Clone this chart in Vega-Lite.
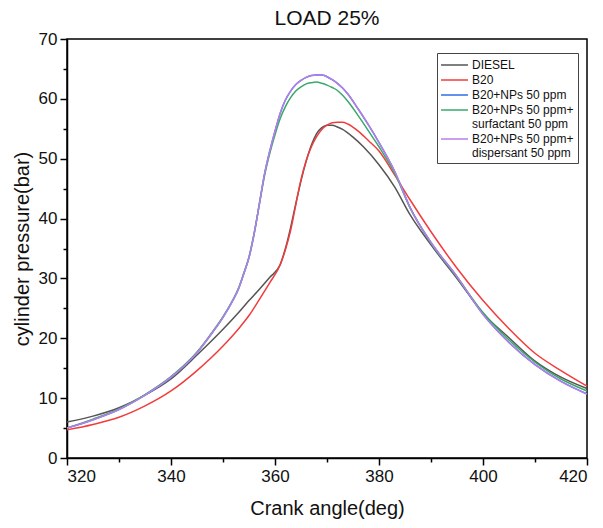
{
  "$schema": "https://vega.github.io/schema/vega-lite/v6.json",
  "width": 520,
  "height": 419,
  "autosize": {"type": "none"},
  "padding": {"left": 67, "top": 39, "right": 16, "bottom": 70},
  "background": "white",
  "title": {"text": "LOAD 25%", "fontSize": 21, "fontWeight": "normal", "color": "#111", "offset": 1, "font": "Liberation Sans"},
  "config": {
    "font": "Liberation Sans",
    "view": {"stroke": "#000", "strokeWidth": 1.5},
    "axis": {
      "domainColor": "#000", "domainWidth": 1.5, "tickColor": "#000", "tickWidth": 1.5,
      "labelColor": "#111", "titleColor": "#111", "labelFontSize": 17, "titleFontSize": 20,
      "titleFontWeight": "normal", "grid": false
    }
  },
  "datasets": {
    "curves": [
      {"fuel": "DIESEL", "angle": 320, "p": 6.0}, {"fuel": "DIESEL", "angle": 325, "p": 7.0}, {"fuel": "DIESEL", "angle": 330, "p": 8.4}, {"fuel": "DIESEL", "angle": 335, "p": 10.5}, {"fuel": "DIESEL", "angle": 340, "p": 13.2}, {"fuel": "DIESEL", "angle": 345, "p": 17.2}, {"fuel": "DIESEL", "angle": 350, "p": 21.5}, {"fuel": "DIESEL", "angle": 353, "p": 24.3}, {"fuel": "DIESEL", "angle": 355, "p": 26.3}, {"fuel": "DIESEL", "angle": 357, "p": 28.2}, {"fuel": "DIESEL", "angle": 359, "p": 30.2}, {"fuel": "DIESEL", "angle": 361, "p": 32.3}, {"fuel": "DIESEL", "angle": 362, "p": 35.0}, {"fuel": "DIESEL", "angle": 363, "p": 38.5}, {"fuel": "DIESEL", "angle": 364, "p": 42.5}, {"fuel": "DIESEL", "angle": 365, "p": 46.3}, {"fuel": "DIESEL", "angle": 366, "p": 49.6}, {"fuel": "DIESEL", "angle": 367, "p": 52.3}, {"fuel": "DIESEL", "angle": 368, "p": 54.2}, {"fuel": "DIESEL", "angle": 369, "p": 55.2}, {"fuel": "DIESEL", "angle": 370, "p": 55.6}, {"fuel": "DIESEL", "angle": 371, "p": 55.6}, {"fuel": "DIESEL", "angle": 372, "p": 55.3}, {"fuel": "DIESEL", "angle": 373, "p": 54.9}, {"fuel": "DIESEL", "angle": 375, "p": 53.6}, {"fuel": "DIESEL", "angle": 377, "p": 52.0}, {"fuel": "DIESEL", "angle": 380, "p": 49.0}, {"fuel": "DIESEL", "angle": 383, "p": 45.3}, {"fuel": "DIESEL", "angle": 386, "p": 40.6}, {"fuel": "DIESEL", "angle": 390, "p": 35.6}, {"fuel": "DIESEL", "angle": 395, "p": 30.0}, {"fuel": "DIESEL", "angle": 400, "p": 24.2}, {"fuel": "DIESEL", "angle": 405, "p": 20.1}, {"fuel": "DIESEL", "angle": 410, "p": 16.2}, {"fuel": "DIESEL", "angle": 415, "p": 13.5}, {"fuel": "DIESEL", "angle": 420, "p": 11.6},

      {"fuel": "B20", "angle": 320, "p": 4.7}, {"fuel": "B20", "angle": 325, "p": 5.6}, {"fuel": "B20", "angle": 330, "p": 6.8}, {"fuel": "B20", "angle": 335, "p": 8.7}, {"fuel": "B20", "angle": 340, "p": 11.2}, {"fuel": "B20", "angle": 345, "p": 14.6}, {"fuel": "B20", "angle": 350, "p": 18.7}, {"fuel": "B20", "angle": 353, "p": 21.6}, {"fuel": "B20", "angle": 355, "p": 23.8}, {"fuel": "B20", "angle": 357, "p": 26.5}, {"fuel": "B20", "angle": 359, "p": 29.3}, {"fuel": "B20", "angle": 361, "p": 32.3}, {"fuel": "B20", "angle": 362, "p": 34.8}, {"fuel": "B20", "angle": 363, "p": 38.0}, {"fuel": "B20", "angle": 364, "p": 42.3}, {"fuel": "B20", "angle": 365, "p": 46.5}, {"fuel": "B20", "angle": 366, "p": 49.7}, {"fuel": "B20", "angle": 367, "p": 52.0}, {"fuel": "B20", "angle": 368, "p": 53.7}, {"fuel": "B20", "angle": 369, "p": 54.9}, {"fuel": "B20", "angle": 370, "p": 55.6}, {"fuel": "B20", "angle": 371, "p": 56.0}, {"fuel": "B20", "angle": 372, "p": 56.1}, {"fuel": "B20", "angle": 373, "p": 56.1}, {"fuel": "B20", "angle": 374, "p": 55.8}, {"fuel": "B20", "angle": 376, "p": 54.6}, {"fuel": "B20", "angle": 378, "p": 53.0}, {"fuel": "B20", "angle": 380, "p": 51.3}, {"fuel": "B20", "angle": 383, "p": 47.3}, {"fuel": "B20", "angle": 386, "p": 43.1}, {"fuel": "B20", "angle": 390, "p": 37.8}, {"fuel": "B20", "angle": 395, "p": 31.7}, {"fuel": "B20", "angle": 400, "p": 26.3}, {"fuel": "B20", "angle": 405, "p": 21.6}, {"fuel": "B20", "angle": 410, "p": 17.5}, {"fuel": "B20", "angle": 415, "p": 14.6}, {"fuel": "B20", "angle": 420, "p": 12.0},

      {"fuel": "B20+NPs 50 ppm", "angle": 320, "p": 5.0}, {"fuel": "B20+NPs 50 ppm", "angle": 325, "p": 6.4}, {"fuel": "B20+NPs 50 ppm", "angle": 330, "p": 8.1}, {"fuel": "B20+NPs 50 ppm", "angle": 335, "p": 10.5}, {"fuel": "B20+NPs 50 ppm", "angle": 340, "p": 13.5}, {"fuel": "B20+NPs 50 ppm", "angle": 345, "p": 17.6}, {"fuel": "B20+NPs 50 ppm", "angle": 348, "p": 21.0}, {"fuel": "B20+NPs 50 ppm", "angle": 350, "p": 23.5}, {"fuel": "B20+NPs 50 ppm", "angle": 352, "p": 26.5}, {"fuel": "B20+NPs 50 ppm", "angle": 353, "p": 28.3}, {"fuel": "B20+NPs 50 ppm", "angle": 354, "p": 30.8}, {"fuel": "B20+NPs 50 ppm", "angle": 355, "p": 33.5}, {"fuel": "B20+NPs 50 ppm", "angle": 356, "p": 37.5}, {"fuel": "B20+NPs 50 ppm", "angle": 357, "p": 42.5}, {"fuel": "B20+NPs 50 ppm", "angle": 358, "p": 47.5}, {"fuel": "B20+NPs 50 ppm", "angle": 359, "p": 51.3}, {"fuel": "B20+NPs 50 ppm", "angle": 360, "p": 54.6}, {"fuel": "B20+NPs 50 ppm", "angle": 361, "p": 57.6}, {"fuel": "B20+NPs 50 ppm", "angle": 362, "p": 59.8}, {"fuel": "B20+NPs 50 ppm", "angle": 363, "p": 61.3}, {"fuel": "B20+NPs 50 ppm", "angle": 364, "p": 62.4}, {"fuel": "B20+NPs 50 ppm", "angle": 365, "p": 63.1}, {"fuel": "B20+NPs 50 ppm", "angle": 366, "p": 63.6}, {"fuel": "B20+NPs 50 ppm", "angle": 367, "p": 63.9}, {"fuel": "B20+NPs 50 ppm", "angle": 368, "p": 64.0}, {"fuel": "B20+NPs 50 ppm", "angle": 369, "p": 64.0}, {"fuel": "B20+NPs 50 ppm", "angle": 370, "p": 63.7}, {"fuel": "B20+NPs 50 ppm", "angle": 371, "p": 63.2}, {"fuel": "B20+NPs 50 ppm", "angle": 372, "p": 62.6}, {"fuel": "B20+NPs 50 ppm", "angle": 373, "p": 61.8}, {"fuel": "B20+NPs 50 ppm", "angle": 374, "p": 60.8}, {"fuel": "B20+NPs 50 ppm", "angle": 376, "p": 58.3}, {"fuel": "B20+NPs 50 ppm", "angle": 378, "p": 55.6}, {"fuel": "B20+NPs 50 ppm", "angle": 380, "p": 52.7}, {"fuel": "B20+NPs 50 ppm", "angle": 383, "p": 47.9}, {"fuel": "B20+NPs 50 ppm", "angle": 386, "p": 41.8}, {"fuel": "B20+NPs 50 ppm", "angle": 390, "p": 36.0}, {"fuel": "B20+NPs 50 ppm", "angle": 395, "p": 30.3}, {"fuel": "B20+NPs 50 ppm", "angle": 400, "p": 24.0}, {"fuel": "B20+NPs 50 ppm", "angle": 405, "p": 19.3}, {"fuel": "B20+NPs 50 ppm", "angle": 410, "p": 15.6}, {"fuel": "B20+NPs 50 ppm", "angle": 415, "p": 12.8}, {"fuel": "B20+NPs 50 ppm", "angle": 420, "p": 10.7},

      {"fuel": "B20+NPs 50 ppm+ surfactant 50 ppm", "angle": 320, "p": 5.0}, {"fuel": "B20+NPs 50 ppm+ surfactant 50 ppm", "angle": 325, "p": 6.5}, {"fuel": "B20+NPs 50 ppm+ surfactant 50 ppm", "angle": 330, "p": 8.2}, {"fuel": "B20+NPs 50 ppm+ surfactant 50 ppm", "angle": 335, "p": 10.6}, {"fuel": "B20+NPs 50 ppm+ surfactant 50 ppm", "angle": 340, "p": 13.6}, {"fuel": "B20+NPs 50 ppm+ surfactant 50 ppm", "angle": 345, "p": 17.7}, {"fuel": "B20+NPs 50 ppm+ surfactant 50 ppm", "angle": 348, "p": 21.1}, {"fuel": "B20+NPs 50 ppm+ surfactant 50 ppm", "angle": 350, "p": 23.6}, {"fuel": "B20+NPs 50 ppm+ surfactant 50 ppm", "angle": 352, "p": 26.6}, {"fuel": "B20+NPs 50 ppm+ surfactant 50 ppm", "angle": 353, "p": 28.4}, {"fuel": "B20+NPs 50 ppm+ surfactant 50 ppm", "angle": 354, "p": 30.9}, {"fuel": "B20+NPs 50 ppm+ surfactant 50 ppm", "angle": 355, "p": 33.6}, {"fuel": "B20+NPs 50 ppm+ surfactant 50 ppm", "angle": 356, "p": 37.6}, {"fuel": "B20+NPs 50 ppm+ surfactant 50 ppm", "angle": 357, "p": 42.4}, {"fuel": "B20+NPs 50 ppm+ surfactant 50 ppm", "angle": 358, "p": 47.2}, {"fuel": "B20+NPs 50 ppm+ surfactant 50 ppm", "angle": 359, "p": 50.9}, {"fuel": "B20+NPs 50 ppm+ surfactant 50 ppm", "angle": 360, "p": 54.0}, {"fuel": "B20+NPs 50 ppm+ surfactant 50 ppm", "angle": 361, "p": 56.7}, {"fuel": "B20+NPs 50 ppm+ surfactant 50 ppm", "angle": 362, "p": 58.7}, {"fuel": "B20+NPs 50 ppm+ surfactant 50 ppm", "angle": 363, "p": 60.2}, {"fuel": "B20+NPs 50 ppm+ surfactant 50 ppm", "angle": 364, "p": 61.3}, {"fuel": "B20+NPs 50 ppm+ surfactant 50 ppm", "angle": 365, "p": 62.0}, {"fuel": "B20+NPs 50 ppm+ surfactant 50 ppm", "angle": 366, "p": 62.5}, {"fuel": "B20+NPs 50 ppm+ surfactant 50 ppm", "angle": 367, "p": 62.7}, {"fuel": "B20+NPs 50 ppm+ surfactant 50 ppm", "angle": 368, "p": 62.8}, {"fuel": "B20+NPs 50 ppm+ surfactant 50 ppm", "angle": 369, "p": 62.6}, {"fuel": "B20+NPs 50 ppm+ surfactant 50 ppm", "angle": 370, "p": 62.3}, {"fuel": "B20+NPs 50 ppm+ surfactant 50 ppm", "angle": 371, "p": 61.9}, {"fuel": "B20+NPs 50 ppm+ surfactant 50 ppm", "angle": 372, "p": 61.4}, {"fuel": "B20+NPs 50 ppm+ surfactant 50 ppm", "angle": 373, "p": 60.6}, {"fuel": "B20+NPs 50 ppm+ surfactant 50 ppm", "angle": 374, "p": 59.6}, {"fuel": "B20+NPs 50 ppm+ surfactant 50 ppm", "angle": 376, "p": 57.2}, {"fuel": "B20+NPs 50 ppm+ surfactant 50 ppm", "angle": 378, "p": 54.6}, {"fuel": "B20+NPs 50 ppm+ surfactant 50 ppm", "angle": 380, "p": 52.0}, {"fuel": "B20+NPs 50 ppm+ surfactant 50 ppm", "angle": 383, "p": 47.6}, {"fuel": "B20+NPs 50 ppm+ surfactant 50 ppm", "angle": 386, "p": 41.8}, {"fuel": "B20+NPs 50 ppm+ surfactant 50 ppm", "angle": 390, "p": 35.9}, {"fuel": "B20+NPs 50 ppm+ surfactant 50 ppm", "angle": 395, "p": 30.2}, {"fuel": "B20+NPs 50 ppm+ surfactant 50 ppm", "angle": 400, "p": 24.3}, {"fuel": "B20+NPs 50 ppm+ surfactant 50 ppm", "angle": 405, "p": 19.7}, {"fuel": "B20+NPs 50 ppm+ surfactant 50 ppm", "angle": 410, "p": 16.0}, {"fuel": "B20+NPs 50 ppm+ surfactant 50 ppm", "angle": 415, "p": 13.2}, {"fuel": "B20+NPs 50 ppm+ surfactant 50 ppm", "angle": 420, "p": 11.2},

      {"fuel": "B20+NPs 50 ppm+ dispersant 50 ppm", "angle": 320, "p": 5.0}, {"fuel": "B20+NPs 50 ppm+ dispersant 50 ppm", "angle": 325, "p": 6.4}, {"fuel": "B20+NPs 50 ppm+ dispersant 50 ppm", "angle": 330, "p": 8.1}, {"fuel": "B20+NPs 50 ppm+ dispersant 50 ppm", "angle": 335, "p": 10.5}, {"fuel": "B20+NPs 50 ppm+ dispersant 50 ppm", "angle": 340, "p": 13.5}, {"fuel": "B20+NPs 50 ppm+ dispersant 50 ppm", "angle": 345, "p": 17.6}, {"fuel": "B20+NPs 50 ppm+ dispersant 50 ppm", "angle": 348, "p": 21.0}, {"fuel": "B20+NPs 50 ppm+ dispersant 50 ppm", "angle": 350, "p": 23.5}, {"fuel": "B20+NPs 50 ppm+ dispersant 50 ppm", "angle": 352, "p": 26.5}, {"fuel": "B20+NPs 50 ppm+ dispersant 50 ppm", "angle": 353, "p": 28.3}, {"fuel": "B20+NPs 50 ppm+ dispersant 50 ppm", "angle": 354, "p": 30.8}, {"fuel": "B20+NPs 50 ppm+ dispersant 50 ppm", "angle": 355, "p": 33.5}, {"fuel": "B20+NPs 50 ppm+ dispersant 50 ppm", "angle": 356, "p": 37.5}, {"fuel": "B20+NPs 50 ppm+ dispersant 50 ppm", "angle": 357, "p": 42.5}, {"fuel": "B20+NPs 50 ppm+ dispersant 50 ppm", "angle": 358, "p": 47.5}, {"fuel": "B20+NPs 50 ppm+ dispersant 50 ppm", "angle": 359, "p": 51.3}, {"fuel": "B20+NPs 50 ppm+ dispersant 50 ppm", "angle": 360, "p": 54.6}, {"fuel": "B20+NPs 50 ppm+ dispersant 50 ppm", "angle": 361, "p": 57.6}, {"fuel": "B20+NPs 50 ppm+ dispersant 50 ppm", "angle": 362, "p": 59.8}, {"fuel": "B20+NPs 50 ppm+ dispersant 50 ppm", "angle": 363, "p": 61.3}, {"fuel": "B20+NPs 50 ppm+ dispersant 50 ppm", "angle": 364, "p": 62.4}, {"fuel": "B20+NPs 50 ppm+ dispersant 50 ppm", "angle": 365, "p": 63.1}, {"fuel": "B20+NPs 50 ppm+ dispersant 50 ppm", "angle": 366, "p": 63.6}, {"fuel": "B20+NPs 50 ppm+ dispersant 50 ppm", "angle": 367, "p": 63.9}, {"fuel": "B20+NPs 50 ppm+ dispersant 50 ppm", "angle": 368, "p": 64.0}, {"fuel": "B20+NPs 50 ppm+ dispersant 50 ppm", "angle": 369, "p": 64.0}, {"fuel": "B20+NPs 50 ppm+ dispersant 50 ppm", "angle": 370, "p": 63.7}, {"fuel": "B20+NPs 50 ppm+ dispersant 50 ppm", "angle": 371, "p": 63.2}, {"fuel": "B20+NPs 50 ppm+ dispersant 50 ppm", "angle": 372, "p": 62.6}, {"fuel": "B20+NPs 50 ppm+ dispersant 50 ppm", "angle": 373, "p": 61.8}, {"fuel": "B20+NPs 50 ppm+ dispersant 50 ppm", "angle": 374, "p": 60.8}, {"fuel": "B20+NPs 50 ppm+ dispersant 50 ppm", "angle": 376, "p": 58.3}, {"fuel": "B20+NPs 50 ppm+ dispersant 50 ppm", "angle": 378, "p": 55.6}, {"fuel": "B20+NPs 50 ppm+ dispersant 50 ppm", "angle": 380, "p": 52.7}, {"fuel": "B20+NPs 50 ppm+ dispersant 50 ppm", "angle": 383, "p": 47.9}, {"fuel": "B20+NPs 50 ppm+ dispersant 50 ppm", "angle": 386, "p": 41.8}, {"fuel": "B20+NPs 50 ppm+ dispersant 50 ppm", "angle": 390, "p": 36.0}, {"fuel": "B20+NPs 50 ppm+ dispersant 50 ppm", "angle": 395, "p": 30.3}, {"fuel": "B20+NPs 50 ppm+ dispersant 50 ppm", "angle": 400, "p": 24.0}, {"fuel": "B20+NPs 50 ppm+ dispersant 50 ppm", "angle": 405, "p": 19.3}, {"fuel": "B20+NPs 50 ppm+ dispersant 50 ppm", "angle": 410, "p": 15.6}, {"fuel": "B20+NPs 50 ppm+ dispersant 50 ppm", "angle": 415, "p": 12.8}, {"fuel": "B20+NPs 50 ppm+ dispersant 50 ppm", "angle": 420, "p": 10.7}
    ]
  },
  "data": {"name": "curves"},
  "resolve": {"axis": {"x": "independent", "y": "independent"}},
  "layer": [
    {
      "mark": {"type": "line", "strokeWidth": 0, "opacity": 0},
      "encoding": {
        "x": {"field": "angle", "type": "quantitative", "scale": {"domain": [320, 420], "nice": false, "zero": false},
              "axis": {"orient": "bottom", "values": [330, 350, 370, 390, 410], "labels": false, "title": null, "domain": false, "tickSize": 4}},
        "y": {"field": "p", "type": "quantitative", "scale": {"domain": [0, 70], "nice": false},
              "axis": {"orient": "left", "values": [5, 15, 25, 35, 45, 55, 65], "labels": false, "title": null, "domain": false, "tickSize": 4}},
        "detail": {"field": "fuel"}
      }
    },
    {
      "mark": {"type": "line", "strokeWidth": 1.5, "interpolate": "monotone"},
      "encoding": {
        "x": {"field": "angle", "type": "quantitative", "scale": {"domain": [320, 420], "nice": false, "zero": false},
              "axis": {"orient": "bottom", "values": [320, 340, 360, 380, 400, 420], "title": "Crank angle(deg)", "tickSize": 7, "labelPadding": 3, "titlePadding": 14}},
        "y": {"field": "p", "type": "quantitative", "scale": {"domain": [0, 70], "nice": false},
              "axis": {"orient": "left", "values": [0, 10, 20, 30, 40, 50, 60, 70], "title": "cylinder pressure(bar)", "tickSize": 7, "labelPadding": 3, "titlePadding": 6}},
        "color": {
          "field": "fuel", "type": "nominal",
          "scale": {
            "domain": ["DIESEL", "B20", "B20+NPs 50 ppm", "B20+NPs 50 ppm+ surfactant 50 ppm", "B20+NPs 50 ppm+ dispersant 50 ppm"],
            "range": ["#555555", "#f23c3c", "#2f6fe0", "#3aa86a", "#b57fe6"]
          },
          "legend": {
            "title": null, "orient": "none", "legendX": 370, "legendY": 14,
            "symbolType": "M-1.14,0H2.71", "symbolSize": 196, "symbolStrokeWidth": 1.5,
            "labelFontSize": 12, "labelColor": "#111", "labelLimit": 300,
            "labelExpr": "split(replace(datum.label, '+ ', '+\\n'), '\\n')",
            "strokeColor": "#444", "fillColor": "white", "padding": 4, "rowPadding": 1, "labelOffset": 15,
            "encoding": {"labels": {"update": {"lineHeight": {"value": 15}}}}
          }
        },
        "order": {"field": "fuel"}
      }
    }
  ]
}
